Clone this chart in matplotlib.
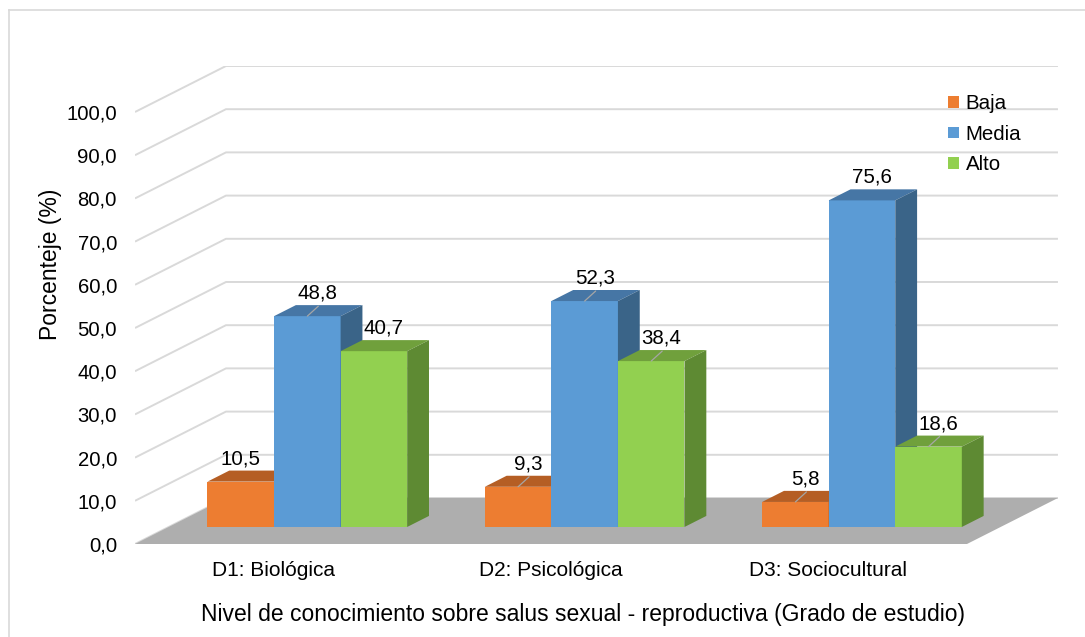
import matplotlib.pyplot as plt
from matplotlib.patches import Polygon, Patch
from matplotlib.lines import Line2D

plt.rcParams["font.family"] = ["Liberation Sans", "DejaVu Sans"]

categories = ["D1: Biológica", "D2: Psicológica", "D3: Sociocultural"]
levels = ["Baja", "Media", "Alto"]
baja = [10.5, 9.3, 5.8]
media = [48.8, 52.3, 75.6]
alto = [40.7, 38.4, 18.6]
yticks = [0, 10, 20, 30, 40, 50, 60, 70, 80, 90, 100]

series = [baja, media, alto]
# front / top / side shades per series
colors = [
    ("#ED7D31", "#B55E24", "#A3531E"),
    ("#5B9BD5", "#4676A5", "#3A6488"),
    ("#92D050", "#70A03C", "#5E8A33"),
]
# labels Excel pulled off the bar (drawn with a leader line)
leader = {(0, 1), (1, 0), (1, 1), (1, 2), (2, 0), (2, 2)}

# oblique depth offset of the floor, in data units
DX = 0.328
DY = 10.65
Z0, Z1 = 0.37, 0.61   # bar depth inside the floor
BW = 0.24             # bar width (category units)


def proj(x, v, z):
    return (x + z * DX, v + z * DY)


W, H = 1085, 637
fig = plt.figure(figsize=(W / 100, H / 100), dpi=100)
left, bottom = 135, 544
ax = fig.add_axes([left / W, (H - bottom) / H, (3 + DX) * 277.33 / W, (100 + DY) * 4.32 / H])
ax.set_xlim(0, 3 + DX)
ax.set_ylim(0, 100 + DY)
for s in ax.spines.values():
    s.set_visible(False)

# gridlines: diagonal on the left wall, then along the back wall
for v in yticks:
    ax.plot([0, DX, 3 + DX], [v, v + DY, v + DY], color="#D9D9D9", lw=1.4, zorder=1,
            solid_capstyle="butt")

# floor
ax.add_patch(Polygon([proj(0, 0, 0), proj(3, 0, 0), proj(3, 0, 1), proj(0, 0, 1)],
                     closed=True, facecolor="#AEAEAE", edgecolor="none", zorder=2))

z = 3
for i in range(len(categories)):
    for j, vals in enumerate(series):
        h = vals[i]
        x0 = i + 0.5 - 1.5 * BW + j * BW
        x1 = x0 + BW
        front, top, side = colors[j]
        ax.add_patch(Polygon([proj(x0, 0, Z0), proj(x1, 0, Z0), proj(x1, h, Z0), proj(x0, h, Z0)],
                             facecolor=front, edgecolor="none", zorder=z))
        ax.add_patch(Polygon([proj(x0, h, Z0), proj(x1, h, Z0), proj(x1, h, Z1), proj(x0, h, Z1)],
                             facecolor=top, edgecolor="none", zorder=z))
        ax.add_patch(Polygon([proj(x1, 0, Z0), proj(x1, 0, Z1), proj(x1, h, Z1), proj(x1, h, Z0)],
                             facecolor=side, edgecolor="none", zorder=z))
        z += 1

        # value label
        px, py = proj(x0 + BW / 2, h, Z0)
        dx = 10 if (i, j) != (0, 0) else 0
        ax.annotate(f"{h:.1f}".replace(".", ","), (px, py), xytext=(dx, 23),
                    textcoords="offset pixels", ha="center", va="center",
                    fontsize=14.8, color="#000000", zorder=50)
        if (i, j) in leader:
            ax.annotate("", (px, py), xytext=(11, 10), textcoords="offset pixels",
                        arrowprops=dict(arrowstyle="-", color="#A6A6A6", lw=0.9,
                                        shrinkA=0, shrinkB=0), zorder=49)

# axes text
ax.set_xticks([])
ax.set_yticks(yticks)
ax.set_yticklabels([f"{v:.1f}".replace(".", ",") for v in yticks], fontsize=14.6)
ax.tick_params(axis="y", length=0, pad=13)

for i, c in enumerate(categories):
    ax.annotate(c, (i + 0.5, 0), xytext=(0, -26), textcoords="offset pixels",
                ha="center", va="center", fontsize=15)

fig.text(51 / W, 1 - 264 / H, "Porcenteje (%)", rotation=90, ha="center", va="center",
         fontsize=16.5)
fig.text(583 / W, 1 - 614 / H, "Nivel de conocimiento sobre salus sexual - reproductiva (Grado de estudio)",
         ha="center", va="center", fontsize=16.5)

handles = [Patch(facecolor=colors[j][0], edgecolor="none") for j in range(3)]
fig.legend(handles, levels, loc="upper left", bbox_to_anchor=(940 / W, 1 - 86 / H),
           frameon=False, fontsize=14.8, handlelength=0.5, handleheight=0.5,
           handletextpad=0.35, labelspacing=0.56, borderaxespad=0)

# chart area border (top and left edges)
fig.add_artist(Line2D([9 / W, 1], [1 - 10 / H, 1 - 10 / H], color="#D9D9D9", lw=1.2))
fig.add_artist(Line2D([9 / W, 9 / W], [0, 1 - 10 / H], color="#D9D9D9", lw=1.2))

fig.savefig("out.png", dpi=100)
